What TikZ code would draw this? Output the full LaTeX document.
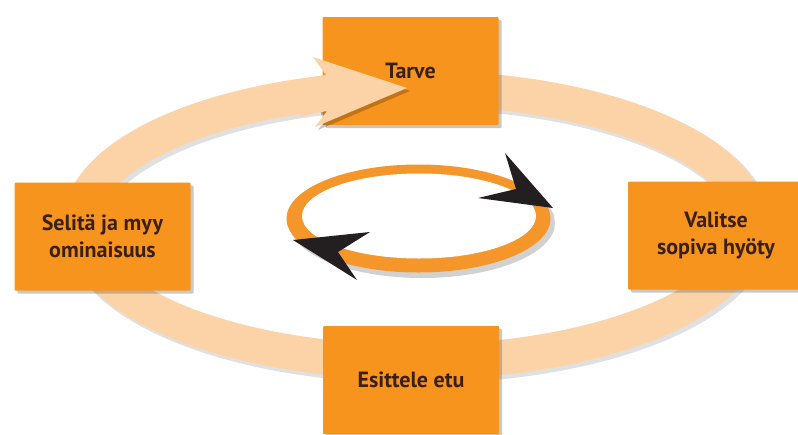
\documentclass[tikz,border=0pt]{standalone}
\usepackage{fontspec}
\setmainfont{PT Sans}
\usetikzlibrary{shadows}
\definecolor{boxor}{HTML}{F7941E}
\definecolor{ringor}{HTML}{F4962A}
\definecolor{peach}{HTML}{FBD3A6}
\definecolor{txt}{HTML}{3A2012}
\definecolor{arrblk}{HTML}{231F20}
\begin{document}
\begin{tikzpicture}[x=1pt,y=-1pt,
  stepbox/.style={draw=none, fill=boxor, minimum width=176pt, minimum height=108pt,
    inner sep=0pt, align=center, font=\fontsize{22}{27}\selectfont\bfseries, text=txt,
    drop shadow={shadow xshift=3pt, shadow yshift=-3pt, opacity=0.3, fill=black!70},
    rounded corners=1pt},
  ringshadow/.style={black, opacity=0.12},
  headshape/.style={fill=peach}]
\useasboundingbox (0,0) rectangle (798,434);
\clip (0,0) rectangle (798,434);
\fill[white] (0,0) rectangle (798,434);
% big cycle ring
\draw[line width=37pt, ringshadow] (418,228) ellipse [x radius=335, y radius=137];
\draw[line width=35pt, peach] (415,225) ellipse [x radius=335, y radius=137];
% boxes
\node[stepbox] (tarve) at (410.5,71) {Tarve};
\node[stepbox] (selita) at (102.5,236.5) {Selitä ja myy\\ominaisuus};
\node[stepbox] (valitse) at (716,235.5) {Valitse\\sopiva hyöty};
\node[stepbox] (esittele) at (411,380) {Esittele etu};
% arrow head into Tarve
\begin{scope}[shift={(3,3)}]
\fill[black, opacity=0.22] (313,57) -- (407,88) -- (315,127) -- (327,111) -- (318,112) -- (318,77) -- (326,75) -- cycle;
\end{scope}
\fill[headshape] (313,57) -- (407,88) -- (315,127) -- (327,111) -- (300,116) -- (300,79) -- (326,75) -- cycle;
% small ring
\fill[black, opacity=0.18] (422,223) ellipse [x radius=133, y radius=55];
\fill[ringor] (418.5,218.5) ellipse [x radius=132, y radius=54];
\fill[white] (419,216) ellipse [x radius=117, y radius=42.5];
% black arrow heads
\fill[arrblk] (505,153) -- (553,208) -- (478,198) -- (516,189) -- cycle;
\fill[arrblk] (293,240) -- (370,232) -- (338,252) -- (357,280) -- cycle;
\end{tikzpicture}
\end{document}
